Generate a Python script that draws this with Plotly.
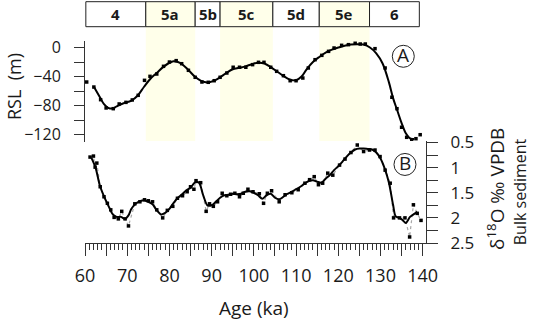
import plotly.graph_objects as go

# ---------------- data ----------------
# Panel A: relative sea level (m) points
rsl_age = [60.4, 62.1, 63.7, 65.0, 66.7, 68.1, 69.7, 71.2, 72.6, 74.1, 75.4, 77.0, 78.6, 80.0,
           81.6, 82.9, 84.5, 86.1, 87.7, 89.2, 90.6, 92.0, 93.6, 95.1, 96.6, 98.1, 99.7, 101.1,
           102.4, 104.0, 105.4, 107.0, 108.6, 110.0, 111.6, 112.9, 114.5, 116.1, 117.7, 119.0,
           120.8, 122.4, 124.0, 125.2, 126.4, 128.7, 131.1, 132.7, 133.9, 135.0, 136.2, 137.4,
           138.4, 139.4]
rsl_val = [-47.5, -54.4, -71.8, -83.2, -84.2, -77.7, -75.5, -72.2, -65.8, -45.2, -39.7, -36.5,
           -25.9, -20.0, -18.1, -22.3, -31.4, -41.0, -47.5, -47.9, -45.7, -41.0, -35.1, -27.2,
           -27.2, -27.2, -23.6, -20.4, -20.4, -27.2, -32.8, -38.8, -45.7, -45.7, -42.0, -28.2,
           -16.8, -10.8, -5.3, -0.7, 3.0, 3.9, 5.8, 4.8, 4.8, -1.6, -28.2, -68.5, -84.2, -109.8,
           -123.6, -126.9, -125.5, -120.0]
# Panel A: smoothed curve
rsl_fit_age = [62.1, 63.5, 64.5, 65.5, 66.5, 67.5, 69.0, 71.0, 72.5, 74.0, 75.5, 77.0, 78.5, 80.0,
               81.0, 82.0, 83.0, 84.5, 86.0, 87.5, 89.0, 90.5, 92.0, 93.5, 95.0, 96.5, 98.0, 99.5,
               101.0, 102.5, 104.0, 105.5, 107.0, 108.5, 110.0, 111.3, 112.5, 114.0, 115.5, 117.0,
               118.5, 120.0, 121.5, 123.0, 124.5, 126.0, 127.5, 129.0, 130.5, 132.0, 133.0, 134.0,
               135.0, 136.0, 137.0, 138.0]
rsl_fit_val = [-54, -68, -78, -83, -84, -81, -77, -73, -66, -54, -43, -35, -27, -21,
               -19, -20, -23, -31, -40, -46, -48, -46, -41, -35, -30, -28, -26, -23,
               -21, -22, -27, -33, -39, -44, -45, -40, -30, -20, -13, -7,
               -3, 0, 2.5, 4, 4.5, 4, 0, -8, -22, -48, -70, -87,
               -104, -118, -125, -126]

# Panel B: bulk sediment d18O (permil VPDB) points
d18o_age = [61.2, 62.0, 62.4, 62.8, 63.6, 64.5, 65.3, 66.1, 66.9, 67.9, 68.7, 69.5, 70.3, 71.8,
            73.0, 74.1, 75.0, 76.0, 77.0, 78.4, 79.5, 80.8, 81.9, 83.1, 84.2, 85.0, 85.8, 86.3,
            87.4, 88.7, 89.5, 90.4, 91.4, 92.5, 93.6, 94.5, 95.5, 96.6, 97.5, 98.6, 99.8, 101.3,
            102.3, 103.2, 104.2, 106.0, 107.4, 109.0, 110.5, 112.1, 113.2, 114.3, 115.3, 116.3,
            117.5, 118.7, 120.3, 121.6, 123.0, 124.5, 126.0, 127.4, 128.7, 129.9, 131.1, 132.3,
            133.1, 134.5, 135.8, 136.9, 137.8, 138.7, 139.6]
d18o_val = [0.79, 0.77, 0.99, 0.91, 1.38, 1.58, 1.71, 1.84, 1.99, 2.02, 1.87, 2.02, 2.16, 1.72,
            1.68, 1.64, 1.66, 1.68, 1.84, 2.00, 1.85, 1.77, 1.61, 1.56, 1.48, 1.38, 1.43, 1.26,
            1.30, 1.87, 1.72, 1.77, 1.68, 1.51, 1.56, 1.53, 1.51, 1.58, 1.51, 1.43, 1.48, 1.52,
            1.71, 1.51, 1.46, 1.68, 1.54, 1.50, 1.44, 1.31, 1.24, 1.18, 1.34, 1.31,
            1.11, 1.15, 0.95, 0.83, 0.70, 0.55, 0.68, 0.65, 0.65, 0.78, 1.05, 1.31,
            2.00, 2.00, 2.00, 2.38, 1.74, 1.91, 2.05]
# Panel B: smoothed curve
d18o_fit_age = [61.5, 62.5, 63.5, 64.5, 65.5, 66.5, 67.5, 68.5, 69.5, 70.3, 71.0, 72.0, 73.0, 74.0,
                75.0, 76.0, 77.0, 78.0, 79.0, 80.0, 81.0, 82.0, 83.0, 84.0, 85.0, 86.0, 87.0,
                88.0, 89.0, 90.0, 91.0, 92.0, 93.0, 94.0, 95.0, 96.0, 97.0, 98.0, 99.0, 100.0,
                101.0, 102.0, 103.0, 104.0, 105.0, 106.0, 107.0, 108.0, 109.0, 110.0, 111.0,
                112.0, 113.0, 114.0, 115.0, 116.0, 117.0, 118.0, 119.0, 120.0, 121.0, 122.0,
                123.0, 124.0, 125.0, 126.0, 127.0, 128.0, 129.0, 130.0, 131.0, 132.0, 133.0,
                133.6, 134.5, 135.3, 136.0, 137.0, 138.0, 138.7]
d18o_fit_val = [0.80, 1.00, 1.35, 1.57, 1.75, 1.92, 1.98, 1.98, 2.02, 1.95, 1.82, 1.72, 1.67, 1.65,
                1.68, 1.73, 1.85, 1.93, 1.90, 1.82, 1.70, 1.60, 1.53, 1.45, 1.40, 1.30, 1.30,
                1.55, 1.75, 1.75, 1.68, 1.60, 1.55, 1.54, 1.52, 1.53, 1.52, 1.48, 1.47, 1.50,
                1.55, 1.62, 1.55, 1.52, 1.60, 1.63, 1.58, 1.52, 1.48, 1.43, 1.38,
                1.32, 1.27, 1.25, 1.28, 1.30, 1.22, 1.15, 1.05, 0.97, 0.88, 0.78,
                0.70, 0.64, 0.62, 0.62, 0.63, 0.64, 0.70, 0.82, 1.02, 1.30, 1.75,
                1.97, 2.00, 2.05, 2.10, 1.98, 1.92, 1.88]

# Marine isotope stages (top bar)
mis_labels = ["4", "5a", "5b", "5c", "5d", "5e", "6"]
mis_bounds = [60.2, 74.4, 86.1, 92.0, 104.5, 115.5, 127.4, 139.2]
mis_shaded = [False, True, False, True, False, True, False]

x_labelled = [60, 70, 80, 90, 100, 110, 120, 130, 140]
x_half = [65, 75, 85, 95, 105, 115, 125, 135]
y1_major = [-120, -80, -40, 0]
y2_major = [0.5, 1.0, 1.5, 2.0, 2.5]
y2_text = ["0.5", "1", "1.5", "2", "2.5"]

# ---------------- figure ----------------
FONT = "Open Sans"
INK = "#1a1a1a"
YEL = "#FFFFEA"
XR = [60, 140.78]

fig = go.Figure()

fig.add_trace(go.Scatter(x=rsl_fit_age, y=rsl_fit_val, mode="lines", yaxis="y",
                         line=dict(color="black", width=2, shape="spline", smoothing=1.0),
                         hoverinfo="skip", showlegend=False))
fig.add_trace(go.Scatter(x=rsl_age, y=rsl_val, mode="markers", yaxis="y",
                         marker=dict(symbol="square", size=3.5, color="black"),
                         showlegend=False))

fig.add_trace(go.Scatter(x=d18o_age, y=d18o_val, mode="lines", yaxis="y2",
                         line=dict(color="#a8a8a8", width=1.2, dash="dot"),
                         hoverinfo="skip", showlegend=False))
fig.add_trace(go.Scatter(x=d18o_fit_age, y=d18o_fit_val, mode="lines", yaxis="y2",
                         line=dict(color="black", width=2, shape="spline", smoothing=0.8),
                         hoverinfo="skip", showlegend=False))
fig.add_trace(go.Scatter(x=d18o_age, y=d18o_val, mode="markers", yaxis="y2",
                         marker=dict(symbol="square", size=3.5, color="black"),
                         showlegend=False))
# carrier for the secondary (unlabelled 5-ka tick) axis
fig.add_trace(go.Scatter(x=[], y=[], xaxis="x2", yaxis="y2", mode="markers",
                         hoverinfo="skip", showlegend=False))

shapes = []
annotations = []
BOX_LO, BOX_HI = 1.0708, 1.1946
for i, lab in enumerate(mis_labels):
    x0, x1 = mis_bounds[i], mis_bounds[i + 1]
    fill = YEL if mis_shaded[i] else "white"
    if mis_shaded[i]:
        shapes.append(dict(type="rect", xref="x", yref="paper", x0=x0, x1=x1, y0=0, y1=BOX_LO,
                           fillcolor=YEL, line=dict(width=0), layer="below"))
    shapes.append(dict(type="rect", xref="x", yref="paper", x0=x0, x1=x1, y0=BOX_LO, y1=BOX_HI,
                       fillcolor=fill, line=dict(color="#222", width=1)))
    annotations.append(dict(x=(x0 + x1) / 2, y=(BOX_LO + BOX_HI) / 2, xref="x", yref="paper",
                            xanchor="center", yanchor="middle",
                            text="<b>%s</b>" % lab, showarrow=False,
                            font=dict(family=FONT, size=15, color=INK)))

# circled panel letters
for letter, xa, ya, yr in [("A", 135.4, -12.1, "y"), ("B", 135.8, 0.937, "y2")]:
    shapes.append(dict(type="circle", xref="x", yref=yr, xsizemode="pixel", ysizemode="pixel",
                       xanchor=xa, yanchor=ya, x0=-11, x1=11, y0=-11, y1=11,
                       line=dict(color="#222", width=1)))
    annotations.append(dict(x=xa, y=ya, xref="x", yref=yr, text=letter, showarrow=False,
                            xanchor="center", yanchor="middle",
                            font=dict(family=FONT, size=19, color=INK), yshift=1))

# axis titles
annotations += [
    dict(x=-0.21, y=0.774, xref="paper", yref="paper", text="RSL  (m)", textangle=-90,
         xanchor="center", yanchor="middle",
         showarrow=False, font=dict(family=FONT, size=18, color=INK)),
    dict(x=0.4956, y=-0.322, xref="paper", yref="paper", text="Age (ka)", showarrow=False,
         xanchor="center", yanchor="middle",
         font=dict(family=FONT, size=19, color=INK)),
    dict(x=1.205, y=0.267, xref="paper", yref="paper", text="δ<sup>18</sup>O ‰ VPDB",
         xanchor="center", yanchor="middle",
         textangle=-90, showarrow=False, font=dict(family=FONT, size=19, color=INK)),
    dict(x=1.276, y=0.252, xref="paper", yref="paper", text="Bulk sediment",
         xanchor="center", yanchor="middle",
         textangle=-90, showarrow=False, font=dict(family=FONT, size=16, color=INK)),
]

fig.update_layout(
    width=533, height=322,
    margin=dict(l=85, r=107, t=41, b=79, autoexpand=False),
    paper_bgcolor="white", plot_bgcolor="white",
    font=dict(family=FONT, color=INK),
    showlegend=False,
    shapes=shapes, annotations=annotations,
    xaxis=dict(range=XR, anchor="y2", showgrid=False, zeroline=False,
               showline=True, linecolor="#333", linewidth=1,
               tickmode="array", tickvals=x_labelled,
               ticks="outside", ticklen=12, tickcolor="#333", tickwidth=1,
               minor=dict(dtick=1, tick0=60, ticks="outside", ticklen=6, tickcolor="#333"),
               tickfont=dict(family=FONT, size=18, color=INK), ticklabelstandoff=4),
    xaxis2=dict(range=XR, anchor="y2", overlaying="x", side="bottom", showgrid=False,
                zeroline=False, showline=False, showticklabels=False,
                tickmode="array", tickvals=x_half,
                ticks="outside", ticklen=12, tickcolor="#333", tickwidth=1),
    yaxis=dict(domain=[0.5, 1.0], range=[-130.05, 8.94], anchor="x", showgrid=False,
               zeroline=False, showline=True, linecolor="#333", linewidth=1,
               tickmode="array", tickvals=y1_major,
               ticks="outside", ticklen=10, tickcolor="#333",
               minor=dict(dtick=20, tick0=0, ticks="outside", ticklen=10, tickcolor="#333"),
               tickfont=dict(family=FONT, size=16, color=INK), ticklabelstandoff=10),
    yaxis2=dict(domain=[0.0, 0.505], range=[2.5, 0.47], anchor="x", side="right",
                showgrid=False, zeroline=False, showline=True, linecolor="#333", linewidth=1,
                tickmode="array", tickvals=y2_major, ticktext=y2_text,
                ticks="outside", ticklen=11, tickcolor="#333",
                minor=dict(dtick=0.25, tick0=0.5, ticks="outside", ticklen=11, tickcolor="#333"),
                tickfont=dict(family=FONT, size=17, color=INK), ticklabelstandoff=9),
)

fig.write_html("out.html", config={"displayModeBar": False},
               post_script="document.body.style.margin='0';document.body.style.overflow='hidden';")
